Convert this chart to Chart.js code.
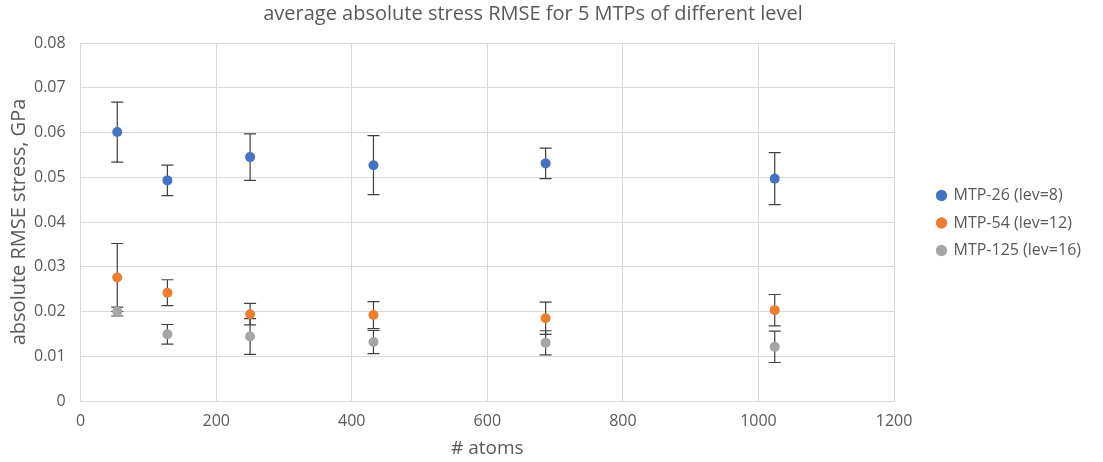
<!DOCTYPE html>
<html>
<head>
<meta charset="utf-8">
<script src="https://cdn.jsdelivr.net/npm/chart.js@4.4.1/dist/chart.umd.min.js"></script>
<style>
  html, body { margin: 0; padding: 0; background: #fff; }
  #wrap { width: 1103px; height: 462px; }
</style>
</head>
<body>
<div id="wrap"><canvas id="stressChart"></canvas></div>
<script>
// number of atoms in the cell
const atoms = [54, 128, 250, 432, 686, 1024];

const seriesNames = ['MTP-26 (lev=8)', 'MTP-54 (lev=12)', 'MTP-125 (lev=16)'];
const seriesColors = ['#4472C4', '#ED7D31', '#A5A5A5'];

// average RMSE, GPa
const mtp26 = [0.0601, 0.0493, 0.0545, 0.0527, 0.0531, 0.0497];
const mtp54 = [0.0276, 0.0242, 0.0194, 0.0192, 0.0185, 0.0203];
const mtp125 = [0.0200, 0.0149, 0.0144, 0.0132, 0.0130, 0.0121];

// error bar half-widths
const err26 = [0.0067, 0.0034, 0.0052, 0.0066, 0.0034, 0.0058];
const err54 = [0.0076, 0.0029, 0.0024, 0.0030, 0.0036, 0.0035];
const err125 = [0.0010, 0.0022, 0.0040, 0.0026, 0.0027, 0.0035];

const yTicks = [0, 0.01, 0.02, 0.03, 0.04, 0.05, 0.06, 0.07, 0.08];
const xTicks = [0, 200, 400, 600, 800, 1000, 1200];

const txt = '#595959';
const gridCol = '#d9d9d9';
const fontName = '"Open Sans", sans-serif';

function toPoints(vals) {
    return atoms.map((a, i) => ({ x: a, y: vals[i] }));
}

const errorBars = {
    id: 'errorBars',
    beforeDatasetsDraw(chart) {
        const ctx = chart.ctx;
        const yScale = chart.scales.y;
        ctx.save();
        ctx.strokeStyle = '#404040';
        ctx.lineWidth = 1.2;
        chart.data.datasets.forEach((ds, di) => {
            const meta = chart.getDatasetMeta(di);
            ds.err.forEach((e, i) => {
                const px = meta.data[i].x;
                const top = yScale.getPixelForValue(ds.data[i].y + e);
                const bot = yScale.getPixelForValue(ds.data[i].y - e);
                ctx.beginPath();
                ctx.moveTo(px, top); ctx.lineTo(px, bot);
                ctx.moveTo(px - 6, top); ctx.lineTo(px + 6, top);
                ctx.moveTo(px - 6, bot); ctx.lineTo(px + 6, bot);
                ctx.stroke();
            });
        });
        ctx.restore();
    }
};

// push the legend items a bit away from the plot, like the excel original
const legendShift = {
    id: 'legendShift',
    afterLayout(chart) {
        chart.legend.left += 32;
        chart.legend.right += 32;
        chart.legend.top -= 8;
        chart.legend.bottom -= 8;
    }
};

const allVals = [mtp26, mtp54, mtp125];
const allErr = [err26, err54, err125];

new Chart(document.getElementById('stressChart'), {
    type: 'scatter',
    data: {
        datasets: seriesNames.map((name, k) => ({
            label: name,
            data: toPoints(allVals[k]),
            err: allErr[k],
            backgroundColor: seriesColors[k],
            borderColor: seriesColors[k],
            pointRadius: 5, pointHoverRadius: 5, borderWidth: 0
        }))
    },
    options: {
        responsive: true, maintainAspectRatio: false, animation: false,
        layout: { padding: { left: 7, right: 44, top: 2, bottom: 2 } },
        plugins: {
            title: {
                display: true, text: 'average absolute stress RMSE for 5 MTPs of different level',
                color: txt, font: { family: fontName, size: 20, weight: 'normal' },
                padding: { top: 0, bottom: 17 }
            },
            legend: {
                position: 'right',
                labels: {
                    usePointStyle: true, pointStyle: 'circle', boxWidth: 8, boxHeight: 8,
                    color: txt, font: { family: fontName, size: 16 }, padding: 11.5
                }
            },
            tooltip: { enabled: false }
        },
        scales: {
            x: {
                type: 'linear', min: 0, max: 1200,
                afterBuildTicks: (s) => { s.ticks = xTicks.map(v => ({ value: v })); },
                ticks: { color: txt, font: { family: fontName, size: 16 }, padding: 11, callback: (v) => String(v) },
                grid: { color: gridCol, drawTicks: false },
                border: { color: gridCol },
                title: { display: true, text: '# atoms', color: txt, font: { family: fontName, size: 19 }, padding: { top: -5, bottom: 0 } }
            },
            y: {
                min: 0, max: 0.08,
                afterBuildTicks: (s) => { s.ticks = yTicks.map(v => ({ value: v })); },
                ticks: {
                    color: txt, font: { family: fontName, size: 16 }, padding: 15,
                    callback: (v) => v === 0 ? '0' : v.toFixed(2)
                },
                grid: { color: gridCol, drawTicks: false },
                border: { color: gridCol },
                title: { display: true, text: 'absolute RMSE stress, GPa', color: txt, font: { family: fontName, size: 20 }, padding: { top: 0, bottom: -12 } }
            }
        }
    },
    plugins: [errorBars, legendShift]
});
</script>
</body>
</html>
